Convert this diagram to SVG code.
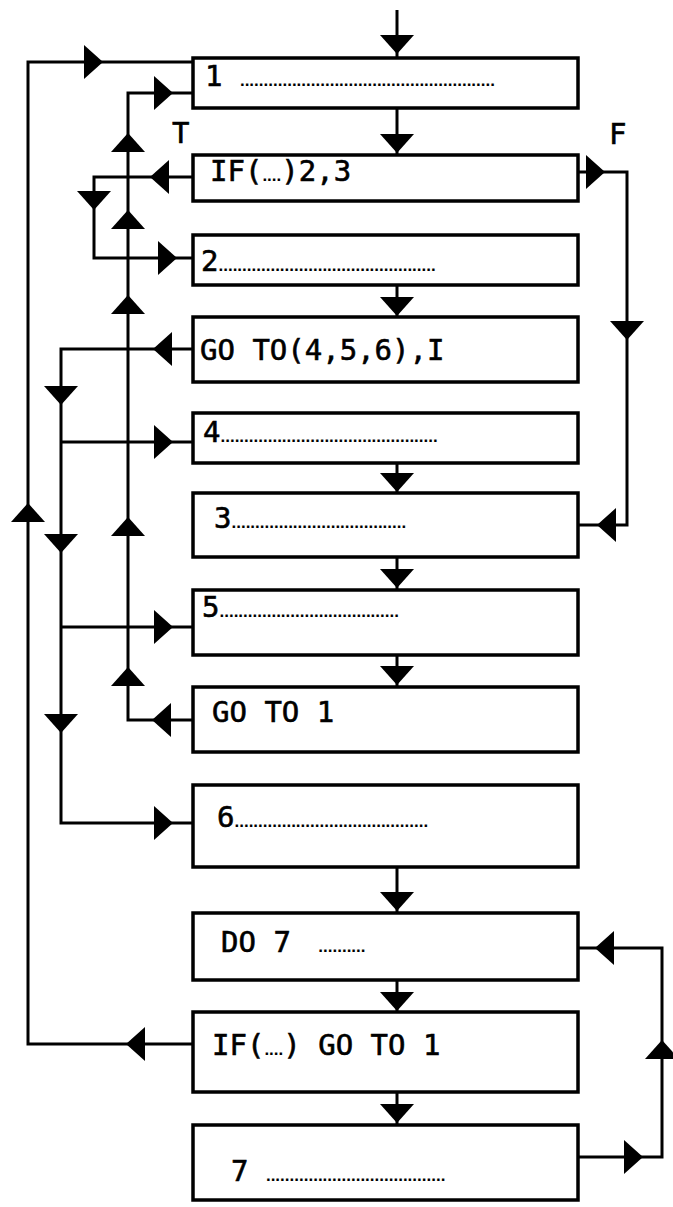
<svg xmlns="http://www.w3.org/2000/svg" xmlns:xlink="http://www.w3.org/1999/xlink" width="673" height="1207" viewBox="0 0 673 1207">
<style>
.box{fill:#fff;stroke:#000;stroke-width:3.5}
.ln{fill:none;stroke:#000;stroke-width:3;stroke-linejoin:miter}
.t{font-family:"DejaVu Sans Mono","Liberation Mono",monospace;font-size:29px;fill:#000;stroke:#000;stroke-width:0.6}
.d{font-family:"Liberation Sans",Arial,sans-serif;font-size:17px;font-weight:bold;stroke-width:0}
</style>
<defs>
<path id="ar" d="M0,0 L-19,-17 L-19,17 Z" fill="#000"/>
</defs>
<rect width="673" height="1207" fill="#fff"/>
<g id="connectors">
<path class="ln" d="M397,10 V58"/>
<path class="ln" d="M397,108 V155"/>
<path class="ln" d="M397,285 V317"/>
<path class="ln" d="M397,463 V493"/>
<path class="ln" d="M397,557 V590"/>
<path class="ln" d="M397,655 V687"/>
<path class="ln" d="M397,867 V913"/>
<path class="ln" d="M397,980 V1012"/>
<path class="ln" d="M397,1092 V1125"/>
<path class="ln" d="M193,1044 H28 V62 H193"/>
<path class="ln" d="M193,720 H128 V93 H193"/>
<path class="ln" d="M193,177 H94 V258 H193"/>
<path class="ln" d="M193,349 H61 V823 H193 M61,442 H193 M61,627 H193"/>
<path class="ln" d="M578,172 H627 V525 H578"/>
<path class="ln" d="M578,1157 H662 V948 H578"/>
<use xlink:href="#ar" transform="translate(397,54) rotate(90)"/>
<use xlink:href="#ar" transform="translate(397,153) rotate(90)"/>
<use xlink:href="#ar" transform="translate(397,316) rotate(90)"/>
<use xlink:href="#ar" transform="translate(397,492) rotate(90)"/>
<use xlink:href="#ar" transform="translate(397,588) rotate(90)"/>
<use xlink:href="#ar" transform="translate(397,685) rotate(90)"/>
<use xlink:href="#ar" transform="translate(397,911) rotate(90)"/>
<use xlink:href="#ar" transform="translate(397,1011) rotate(90)"/>
<use xlink:href="#ar" transform="translate(397,1123) rotate(90)"/>
<use xlink:href="#ar" transform="translate(126,1044) rotate(180)"/>
<use xlink:href="#ar" transform="translate(28,503) rotate(-90)"/>
<use xlink:href="#ar" transform="translate(103,62)"/>
<use xlink:href="#ar" transform="translate(152,720) rotate(180)"/>
<use xlink:href="#ar" transform="translate(128,667) rotate(-90)"/>
<use xlink:href="#ar" transform="translate(128,517) rotate(-90)"/>
<use xlink:href="#ar" transform="translate(128,295) rotate(-90)"/>
<use xlink:href="#ar" transform="translate(128,210) rotate(-90)"/>
<use xlink:href="#ar" transform="translate(128,133) rotate(-90)"/>
<use xlink:href="#ar" transform="translate(173,93)"/>
<use xlink:href="#ar" transform="translate(150,177) rotate(180)"/>
<use xlink:href="#ar" transform="translate(94,210) rotate(90)"/>
<use xlink:href="#ar" transform="translate(177,258)"/>
<use xlink:href="#ar" transform="translate(153,349) rotate(180)"/>
<use xlink:href="#ar" transform="translate(61,405) rotate(90)"/>
<use xlink:href="#ar" transform="translate(61,553) rotate(90)"/>
<use xlink:href="#ar" transform="translate(61,733) rotate(90)"/>
<use xlink:href="#ar" transform="translate(173,442)"/>
<use xlink:href="#ar" transform="translate(173,627)"/>
<use xlink:href="#ar" transform="translate(173,823)"/>
<use xlink:href="#ar" transform="translate(605,172)"/>
<use xlink:href="#ar" transform="translate(627,340) rotate(90)"/>
<use xlink:href="#ar" transform="translate(597,525) rotate(180)"/>
<use xlink:href="#ar" transform="translate(643,1157)"/>
<use xlink:href="#ar" transform="translate(662,1040) rotate(-90)"/>
<use xlink:href="#ar" transform="translate(595,948) rotate(180)"/>
<text class="t" x="172" y="143">T</text>
<text class="t" x="609" y="144">F</text>
</g>
<g id="n1"><rect class="box" x="193" y="58" width="385" height="50"/>
<text class="t" x="205" y="86">1 <tspan class="d">......................................................</tspan></text></g>
<g id="nIF1"><rect class="box" x="193" y="155" width="385" height="46"/>
<text class="t" x="210" y="181">IF(<tspan class="d">....</tspan>)2,3</text></g>
<g id="n2"><rect class="box" x="193" y="235" width="385" height="50"/>
<text class="t" x="201" y="271">2<tspan class="d">..............................................</tspan></text></g>
<g id="nGOTO"><rect class="box" x="193" y="317" width="385" height="65"/>
<text class="t" x="200" y="360">GO TO(4,5,6),I</text></g>
<g id="n4"><rect class="box" x="193" y="413" width="385" height="50"/>
<text class="t" x="203" y="442">4<tspan class="d">..............................................</tspan></text></g>
<g id="n3"><rect class="box" x="193" y="493" width="385" height="64"/>
<text class="t" x="214" y="528">3<tspan class="d">.....................................</tspan></text></g>
<g id="n5"><rect class="box" x="193" y="590" width="385" height="65"/>
<text class="t" x="202" y="617">5<tspan class="d">......................................</tspan></text></g>
<g id="nGOTO1"><rect class="box" x="193" y="687" width="385" height="65"/>
<text class="t" x="212" y="722">GO TO 1</text></g>
<g id="n6"><rect class="box" x="193" y="785" width="385" height="82"/>
<text class="t" x="217" y="827">6<tspan class="d">.........................................</tspan></text></g>
<g id="nDO7"><rect class="box" x="193" y="913" width="385" height="67"/>
<text class="t" x="221" y="952">DO 7 <tspan class="d" dx="10">..........</tspan></text></g>
<g id="nIF2"><rect class="box" x="193" y="1012" width="385" height="80"/>
<text class="t" x="212" y="1055">IF(<tspan class="d">....</tspan>) GO TO 1</text></g>
<g id="n7"><rect class="box" x="193" y="1125" width="385" height="75"/>
<text class="t" x="231" y="1181">7 <tspan class="d">......................................</tspan></text></g>
</svg>
